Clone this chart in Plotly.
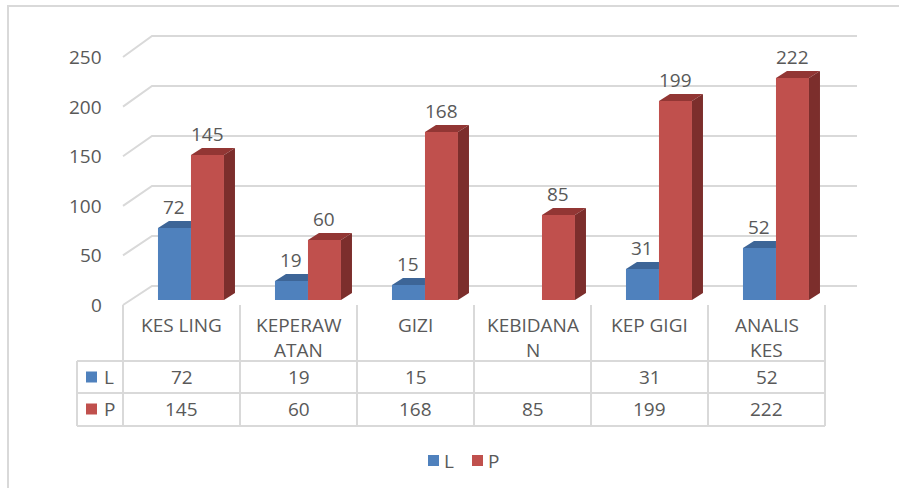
import plotly.graph_objects as go

# ---- data ----
categories = ["KES LING", "KEPERAW<br>ATAN", "GIZI", "KEBIDANA<br>N", "KEP GIGI", "ANALIS<br>KES"]
series_L = [72, 19, 15, None, 31, 52]
series_P = [145, 60, 168, 85, 199, 222]
series_names = ["L", "P"]
y_ticks = [0, 50, 100, 150, 200, 250]

# ---- styling ----
W, H = 899, 488
FONT = "Open Sans"
TXT = "#595959"
GRID = "#D9D9D9"
BLUE, BLUE_TOP = "#4F81BD", "#3D6597"
RED, RED_TOP, RED_SIDE = "#C0504D", "#923634", "#7C2E2C"
FS = 19

# pixel helpers (plot area spans whole figure)
COL = 117.0
X0 = 181.5
def xd(px):
    return (px - X0) / COL
def yd(py):
    return 300 - py
def xp(px):
    return px / W
def ypp(py):
    return 1 - py / H

W_BAR = 33 / COL
OFF_L = -0.201
OFF_P = 0.081
DX = 11 / COL
DY = 7

fig = go.Figure()
idx = list(range(len(categories)))

fig.add_trace(go.Bar(x=idx, y=series_L, width=W_BAR, offset=OFF_L, name=series_names[0],
                     marker=dict(color=BLUE, line=dict(width=0)), hoverinfo="skip", showlegend=False))
fig.add_trace(go.Bar(x=idx, y=series_P, width=W_BAR, offset=OFF_P, name=series_names[1],
                     marker=dict(color=RED, line=dict(width=0)), hoverinfo="skip", showlegend=False))

# 3D faces
bt_x, bt_y, rt_x, rt_y, rs_x, rs_y = [], [], [], [], [], []
for i in idx:
    v = series_L[i]
    if v is not None:
        l = i + OFF_L
        r = l + W_BAR
        bt_x += [l, l + DX, r, r, l, None]
        bt_y += [v, v + DY, v + DY, v, v, None]
    v = series_P[i]
    l = i + OFF_P
    r = l + W_BAR
    rt_x += [l, l + DX, r + DX, r, l, None]
    rt_y += [v, v + DY, v + DY, v, v, None]
    rs_x += [r, r + DX, r + DX, r, r, None]
    rs_y += [0, DY, v + DY, v, 0, None]

for xs, ys, c in [(bt_x, bt_y, BLUE_TOP), (rt_x, rt_y, RED_TOP), (rs_x, rs_y, RED_SIDE)]:
    fig.add_trace(go.Scatter(x=xs, y=ys, mode="lines", fill="toself", fillcolor=c,
                             line=dict(width=0, color=c), hoverinfo="skip", showlegend=False))

shapes = []
annotations = []

# outer border
shapes.append(dict(type="rect", xref="paper", yref="paper", x0=xp(8), x1=xp(920), y0=ypp(6), y1=ypp(520),
                   line=dict(color=GRID, width=2), layer="below"))

# back-wall gridlines + side wall
for t in y_ticks:
    front = -5 + t * 248 / 250
    back = t + 14
    shapes.append(dict(type="path", xref="x", yref="y",
                       path=f"M {xd(123)} {front} L {xd(152)} {back} L {xd(857)} {back}",
                       line=dict(color=GRID, width=2), layer="below"))
    annotations.append(dict(x=xd(104), y=front, xref="x", yref="y", text=str(t), showarrow=False,
                            xanchor="right", yanchor="middle", font=dict(size=FS, color=TXT, family=FONT)))

# data labels
for i in idx:
    for vals, off in [(series_L, OFF_L), (series_P, OFF_P)]:
        v = vals[i]
        if v is None:
            continue
        annotations.append(dict(x=i + off + W_BAR / 2, y=v + 21, xref="x", yref="y", text=str(v),
                                showarrow=False, xanchor="center", yanchor="middle",
                                font=dict(size=FS, color=TXT, family=FONT)))

# data table
for k in range(len(categories) + 1):
    shapes.append(dict(type="line", xref="x", yref="y", x0=k - 0.5, x1=k - 0.5, y0=yd(305), y1=yd(426),
                       line=dict(color=GRID, width=2)))
shapes.append(dict(type="line", xref="x", yref="y", x0=xd(77), x1=xd(77), y0=yd(361), y1=yd(426),
                   line=dict(color=GRID, width=2)))
for py in [361, 393, 426]:
    shapes.append(dict(type="line", xref="x", yref="y", x0=xd(77), x1=len(categories) - 0.5, y0=yd(py), y1=yd(py),
                       line=dict(color=GRID, width=2)))

for i, cat in enumerate(categories):
    for j, line in enumerate(cat.split("<br>")):
        annotations.append(dict(x=i, y=yd(325 + 25 * j), xref="x", yref="y", text=line, showarrow=False,
                                xanchor="center", yanchor="middle", font=dict(size=FS, color=TXT, family=FONT)))
    for vals, py in [(series_L, 377), (series_P, 409)]:
        v = vals[i]
        if v is None:
            continue
        annotations.append(dict(x=i, y=yd(py), xref="x", yref="y", text=str(v), showarrow=False,
                                xanchor="center", yanchor="middle", font=dict(size=FS, color=TXT, family=FONT)))

for name, c, py in [(series_names[0], BLUE, 377), (series_names[1], RED, 409)]:
    shapes.append(dict(type="rect", xref="x", yref="y", x0=xd(86), x1=xd(97), y0=yd(py - 5.5), y1=yd(py + 5.5),
                       fillcolor=c, line=dict(width=0)))
    annotations.append(dict(x=xd(102), y=yd(py), xref="x", yref="y", text=name, showarrow=False,
                            xanchor="left", yanchor="middle", font=dict(size=FS, color=TXT, family=FONT)))

# legend
for name, c, sx in [(series_names[0], BLUE, 428), (series_names[1], RED, 472)]:
    shapes.append(dict(type="rect", xref="x", yref="y", x0=xd(sx), x1=xd(sx + 11), y0=yd(455), y1=yd(466),
                       fillcolor=c, line=dict(width=0)))
    annotations.append(dict(x=xd(sx + 14), y=yd(461), xref="x", yref="y", text=name, showarrow=False,
                            xanchor="left", yanchor="middle", font=dict(size=FS, color=TXT, family=FONT)))

fig.update_layout(
    width=W, height=H, autosize=False,
    margin=dict(l=0, r=0, t=0, b=0, pad=0),
    paper_bgcolor="white", plot_bgcolor="rgba(0,0,0,0)",
    barmode="overlay",
    xaxis=dict(range=[xd(0), xd(W)], visible=False, fixedrange=True),
    yaxis=dict(range=[yd(H), yd(0)], visible=False, fixedrange=True),
    shapes=shapes, annotations=annotations,
    font=dict(family=FONT, color=TXT, size=FS),
)

fig.write_html("out.html", config={"displayModeBar": False},
               post_script="document.body.style.margin='0';document.body.style.overflow='hidden';")
